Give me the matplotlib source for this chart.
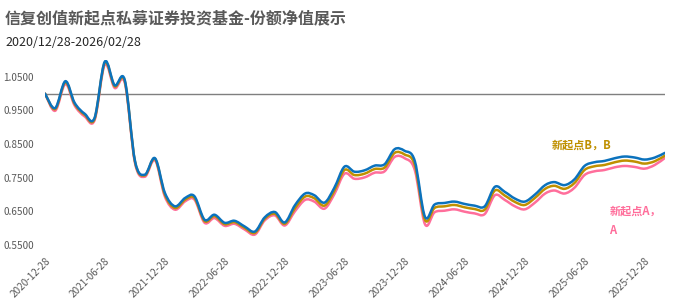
import matplotlib
matplotlib.use("Agg")
import matplotlib.pyplot as plt
import matplotlib.dates as mdates
from matplotlib.path import Path
from matplotlib.patches import PathPatch
import numpy as np
import pandas as pd

plt.rcParams["font.family"] = ["Noto Sans CJK SC", "DejaVu Sans"]

TITLE = "信复创值新起点私募证券投资基金-份额净值展示"
SUBTITLE = "2020/12/28-2026/02/28"

# monthly net values, 2020-12-28 .. 2026-02-28
dates = pd.date_range("2020-12-28", "2026-02-28", freq=pd.DateOffset(months=1))

nav_main = [
    1.000, 0.957, 1.037, 0.973, 0.940, 0.928, 1.095, 1.025, 1.040, 0.800,
    0.759, 0.808, 0.705, 0.665, 0.690, 0.695, 0.625, 0.640, 0.616, 0.622,
    0.605, 0.590, 0.632, 0.648, 0.617, 0.668, 0.703, 0.698, 0.676, 0.720,
    0.783, 0.768, 0.772, 0.786, 0.790, 0.835, 0.830, 0.800, 0.634, 0.670,
    0.675, 0.679, 0.672, 0.667, 0.665, 0.723, 0.708, 0.688, 0.679, 0.700,
    0.728, 0.737, 0.728, 0.745, 0.785, 0.796, 0.800, 0.808, 0.813, 0.810,
    0.804, 0.810, 0.824,
]
nav_b = [
    1.000, 0.954, 1.034, 0.970, 0.937, 0.925, 1.092, 1.022, 1.037, 0.798,
    0.757, 0.806, 0.700, 0.660, 0.685, 0.690, 0.621, 0.636, 0.612, 0.618,
    0.601, 0.586, 0.628, 0.643, 0.613, 0.659, 0.694, 0.689, 0.667, 0.711,
    0.773, 0.758, 0.762, 0.776, 0.780, 0.824, 0.819, 0.788, 0.625, 0.660,
    0.665, 0.669, 0.662, 0.657, 0.655, 0.712, 0.697, 0.678, 0.669, 0.690,
    0.717, 0.726, 0.717, 0.734, 0.773, 0.784, 0.788, 0.796, 0.801, 0.798,
    0.792, 0.799, 0.816,
]
nav_a = [
    1.000, 0.949, 1.029, 0.965, 0.932, 0.921, 1.086, 1.017, 1.032, 0.794,
    0.753, 0.802, 0.694, 0.655, 0.680, 0.685, 0.616, 0.630, 0.607, 0.613,
    0.596, 0.581, 0.623, 0.638, 0.608, 0.650, 0.684, 0.679, 0.658, 0.701,
    0.762, 0.747, 0.751, 0.765, 0.769, 0.812, 0.808, 0.773, 0.612, 0.647,
    0.652, 0.656, 0.649, 0.644, 0.642, 0.698, 0.684, 0.665, 0.656, 0.676,
    0.703, 0.712, 0.703, 0.720, 0.758, 0.769, 0.773, 0.781, 0.785, 0.782,
    0.777, 0.788, 0.809,
]

x_ticks = ["2020-12-28", "2021-06-28", "2021-12-28", "2022-06-28",
           "2022-12-28", "2023-06-28", "2023-12-28", "2024-06-28",
           "2024-12-28", "2025-06-28", "2025-12-28"]
y_ticks = [0.55, 0.65, 0.75, 0.85, 0.95, 1.05]

BLUE = "#0B72BD"
GOLD = "#BF9000"
PINK = "#FF6E9B"
GREY = "#595959"


def smooth_line(ax, x, y, **kw):
    """Draw a smoothed (bezier) line through the points, Excel style."""
    p = np.column_stack([mdates.date2num(x), np.asarray(y, float)])
    verts = [p[0]]
    codes = [Path.MOVETO]
    n = len(p)
    for i in range(n - 1):
        p0 = p[max(i - 1, 0)]
        p1, p2 = p[i], p[i + 1]
        p3 = p[min(i + 2, n - 1)]
        verts += [p1 + (p2 - p0) / 6, p2 - (p3 - p1) / 6, p2]
        codes += [Path.CURVE4] * 3
    ax.add_patch(PathPatch(Path(verts, codes), fill=False,
                           capstyle="round", joinstyle="round", **kw))


fig = plt.figure(figsize=(6.8, 3.0), dpi=100)
ax = fig.add_axes([45 / 680, 55 / 300, 620 / 680, 185 / 300])

ax.axhline(1.0, color="#7F7F7F", lw=1.0, zorder=1)
smooth_line(ax, dates, nav_a, edgecolor=PINK, lw=1.8, zorder=2)
smooth_line(ax, dates, nav_b, edgecolor=GOLD, lw=1.8, zorder=3)
smooth_line(ax, dates, nav_main, edgecolor=BLUE, lw=1.8, zorder=4)

ax.set_xlim(pd.Timestamp("2020-12-28"), pd.Timestamp("2026-02-28"))
ax.set_ylim(0.55, 1.10)
ax.set_yticks(y_ticks)
ax.set_yticklabels([f"{v:.4f}" for v in y_ticks], fontsize=7.2, color=GREY)
ax.set_xticks([pd.Timestamp(t) for t in x_ticks])
ax.set_xticklabels(x_ticks, fontsize=7.2, color=GREY, rotation=45,
                   ha="right", va="top", rotation_mode="anchor")
ax.tick_params(axis="y", length=0, pad=8)
ax.tick_params(axis="x", length=0, pad=8)
for s in ax.spines.values():
    s.set_visible(False)

ax.text(pd.Timestamp("2025-03-20"), 0.846, "新起点B，B", color=GOLD,
        fontsize=8, fontweight="bold", va="center")
ax.text(pd.Timestamp("2025-09-12"), 0.651, "新起点A，", color=PINK,
        fontsize=8, fontweight="bold", va="center")
ax.text(pd.Timestamp("2025-09-12"), 0.594, "A", color=PINK,
        fontsize=8, fontweight="bold", va="center")

fig.text(5 / 680, 1 - 18 / 300, TITLE, fontsize=11.5, fontweight="bold",
         color=GREY, va="center")
fig.text(5 / 680, 1 - 42 / 300, SUBTITLE, fontsize=9, color="#262626",
         va="center")

fig.savefig("out.png", dpi=100)
